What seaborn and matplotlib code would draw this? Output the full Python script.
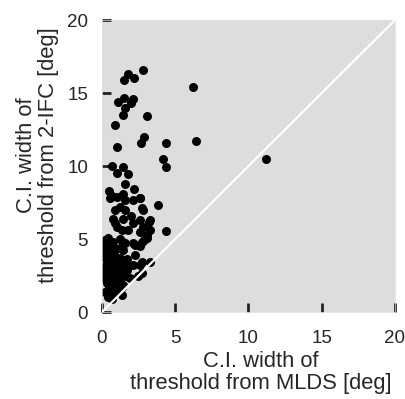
import matplotlib
matplotlib.use('Agg')
import matplotlib.pyplot as plt
import seaborn as sns

# CI widths (deg): MLDS on x, 2-IFC on y
mlds_ci = [1.5, 1.8, 2.2, 2.8, 6.2,
           1.1, 1.5, 2.1, 2.0, 1.55, 1.45, 3.05, 0.9,
           2.85, 2.65, 1.0, 4.35, 6.45, 11.2, 4.15, 4.4,
           0.7, 1.0, 1.45, 1.75, 1.55, 2.2, 0.5, 0.65, 1.45, 2.6, 3.8, 4.35,
           0.55, 1.0, 1.55, 2.1, 2.6, 2.8, 2.7,
           0.9, 0.75, 1.0, 1.35, 1.8, 2.1, 2.0, 1.55, 1.2, 1.45, 2.6, 2.8, 2.6,
           0.9, 3.2, 3.3, 3.05, 2.85, 3.25,
           0.4, 0.75, 1.45, 0.4, 1.45, 2.25, 2.7, 3.05, 2.1, 1.55, 0.2, 2.6,
           0.75, 0.35, 1.2, 1.55, 0.2, 1.0, 1.7, 0.55, 1.2, 0.35, 1.0, 1.45,
           0.2, 0.75, 0.4, 1.35, 2.25, 2.1, 2.6, 2.7, 2.45, 1.9, 1.35, 3.25, 2.7,
           0.5, 0.8, 0.6, 0.9, 0.5, 0.9, 1.1, 0.3, 0.95, 0.6, 1.2, 1.1, 1.4,
           0.7, 0.65, 0.25, 0.45, 1.15, 0.85, 0.3, 1.7, 1.25,
           0.1, 0.15, 0.1, 0.3, 0.45, 0.85, 0.65, 1.3, 1.05, 1.6, 0.8, 0.4]
ifc_ci = [15.9, 16.3, 16.0, 16.6, 15.4,
          14.4, 14.65, 14.6, 14.3, 14.0, 13.5, 13.4, 12.8,
          12.0, 11.6, 11.3, 11.6, 11.7, 10.5, 10.5, 9.9,
          10.0, 9.5, 9.9, 9.45, 8.8, 8.4, 8.3, 7.95, 8.1, 7.8, 7.3, 5.55,
          7.8, 7.9, 7.7, 7.7, 7.8, 7.0, 7.1,
          7.0, 6.4, 5.8, 5.6, 5.6, 6.1, 6.6, 7.0, 7.2, 6.4, 6.3, 5.8, 5.5,
          6.1, 6.2, 5.6, 5.1, 4.9, 6.3,
          5.1, 4.8, 4.8, 4.45, 4.25, 4.6, 4.8, 5.3, 4.7, 4.7, 4.9, 4.5,
          4.0, 3.55, 3.7, 3.35, 3.0, 3.0, 2.9, 2.4, 2.4, 2.0, 2.05, 1.85,
          1.35, 1.3, 1.0, 1.15, 3.9, 3.2, 3.2, 3.4, 2.5, 2.3, 1.7, 3.4, 2.7,
          3.3, 3.5, 2.8, 2.6, 1.7, 1.7, 1.4, 2.5, 4.3, 4.2, 4.4, 3.3, 3.0,
          2.1, 0.9, 2.2, 3.9, 2.7, 3.8, 3.2, 3.6, 5.0,
          2.7, 3.8, 4.4, 4.1, 3.2, 3.9, 3.7, 2.6, 2.6, 2.5, 2.3, 2.9]

ticks = [0, 5, 10, 15, 20]
bg = '#dddddd'

sns.set_style('ticks')
plt.rcParams.update({
    'font.family': ['Liberation Sans', 'DejaVu Sans'],
    'xtick.labelcolor': '#262626', 'ytick.labelcolor': '#262626',
    'xtick.labelsize': 13.5, 'ytick.labelsize': 13.5,
})

fig = plt.figure(figsize=(4.06, 3.99), dpi=100)
ax = fig.add_axes([0.2512, 0.218, 0.7217, 0.7318])
ax.set_facecolor(bg)

sns.scatterplot(x=mlds_ci, y=ifc_ci, color='black', s=42, linewidth=0,
                ax=ax, zorder=2)
ax.plot([0, 20], [0, 20], color='white', lw=1.6, zorder=3)

ax.set_xlim(0, 20)
ax.set_ylim(0, 20)
ax.set_xticks(ticks)
ax.set_yticks(ticks)
# frame blends into the background; keep spines so the ticks stay drawn
for s in ax.spines.values():
    s.set_color(bg)
    s.set_linewidth(0.5)
ax.tick_params(direction='in', length=6.5, width=2, color='#222222',
               zorder=5)
ax.tick_params(axis='x', pad=13)
ax.tick_params(axis='y', pad=10)

ax.set_xlabel('C.I. width of\nthreshold from MLDS [deg]', fontsize=15.8,
              color='#262626', labelpad=2.5, linespacing=1.1)
ax.set_ylabel('C.I. width of\nthreshold from 2-IFC [deg]', fontsize=15.8,
              color='#262626', labelpad=5.5, linespacing=1.1)
ax.xaxis.label.set_x(0.543)
ax.yaxis.label.set_y(0.538)

fig.savefig('out.png', dpi=100)
